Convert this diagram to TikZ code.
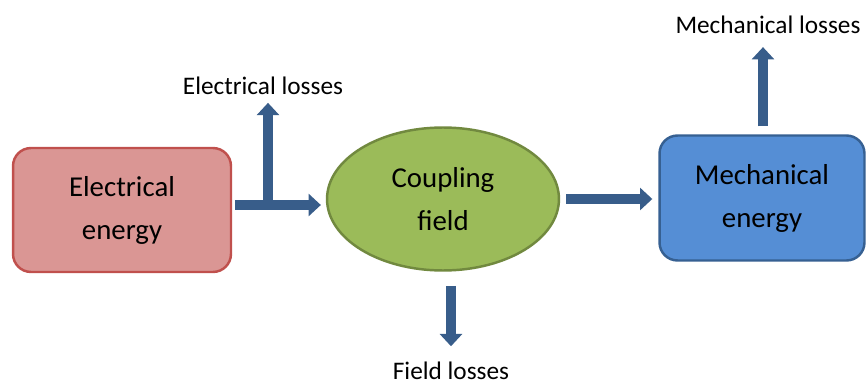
\documentclass[tikz,border=0pt]{standalone}
\usepackage{fontspec}
\setmainfont{Carlito}
\usetikzlibrary{arrows.meta,shapes.geometric}
\definecolor{redfill}{HTML}{DA9694}
\definecolor{redline}{HTML}{C0504D}
\definecolor{greenfill}{HTML}{9BBB59}
\definecolor{greenline}{HTML}{71893F}
\definecolor{bluefill}{HTML}{558ED5}
\definecolor{blueline}{HTML}{366092}
\definecolor{flowcol}{HTML}{385D8A}
\begin{document}
\begin{tikzpicture}[x=0.02cm, y=-0.02cm, line width=1.4pt,
    box/.style={draw, rounded corners=0.36cm, align=center,
      font=\fontsize{16.4}{24.5}\selectfont},
    lossname/.style={font=\fontsize{14.4}{17}\selectfont},
    flow/.style={draw=flowcol, line width=5.5pt,
      -{Triangle[length=7pt, width=12.5pt]}}]
  \useasboundingbox (0,0) rectangle (866,385);
  % 电能
  \node[box, fill=redfill, draw=redline, minimum width=4.36cm, minimum height=2.48cm]
    (elec) at (122,210) {Electrical\\energy};
  % 耦合场
  \node[ellipse, draw=greenline, fill=greenfill, minimum width=4.64cm, minimum height=2.86cm,
    align=center, font=\fontsize{16.4}{24.5}\selectfont]
    (coup) at (443,199) {Coupling\\field};
  % 机械能
  \node[box, fill=bluefill, draw=blueline, minimum width=4.1cm, minimum height=2.5cm]
    (mech) at (762,198) {Mechanical\\energy};
  % 损耗
  \node[lossname] (elloss) at (263,86) {Electrical losses};
  \node[lossname] (meloss) at (768,25) {Mechanical losses};
  \node[lossname] (filoss) at (451,371) {Field losses};
  \coordinate (e1) at (268,200);
  % 箭头
  \draw[flow, shorten <=1.7pt, shorten >=2.8pt] (elec.east |- 0,205) -- (coup.west |- 0,205);
  \draw[flow, shorten >=0.5pt] (e1) -- (e1 |- elloss.south);
  \draw[flow, shorten <=3.4pt, shorten >=3.4pt] (coup.east) -- (mech.west |- coup.east);
  \draw[flow, shorten <=4.5pt, shorten >=3.5pt] (mech.north -| 763,0) -- (meloss.south -| 763,0);
  \draw[flow, shorten <=8pt, shorten >=5pt] (coup.south -| filoss.north) -- (filoss.north);
\end{tikzpicture}
\end{document}
